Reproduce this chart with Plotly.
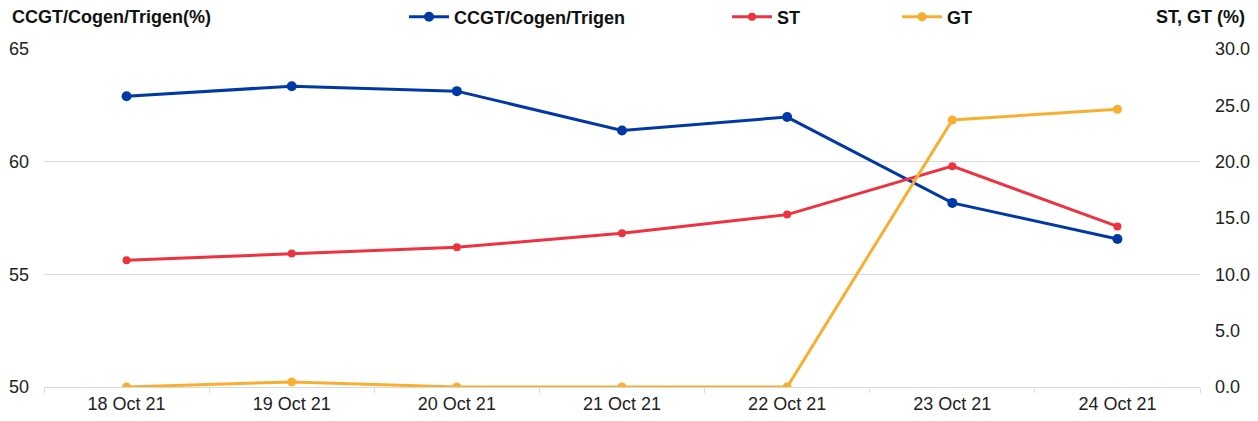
import plotly.graph_objects as go

dates = ["18 Oct 21", "19 Oct 21", "20 Oct 21", "21 Oct 21", "22 Oct 21", "23 Oct 21", "24 Oct 21"]
ccgt = [62.9, 63.35, 63.13, 61.38, 61.98, 58.17, 56.57]
st = [11.25, 11.85, 12.4, 13.65, 15.3, 19.6, 14.25]
gt = [0.0, 0.45, 0.0, 0.0, 0.0, 23.7, 24.65]

left_ticks = [50, 55, 60, 65]
right_ticks = [0, 5, 10, 15, 20, 25, 30]

BLUE = "#0039A6"
RED = "#EE3340"
ORANGE = "#F9AE30"
FONT = "Liberation Sans, Arial, sans-serif"

fig = go.Figure()
fig.add_trace(go.Scatter(x=dates, y=ccgt, name="<b>CCGT/Cogen/Trigen</b>", mode="lines+markers",
                         line=dict(color=BLUE, width=3), marker=dict(size=10, color=BLUE),
                         yaxis="y", legend="legend"))
fig.add_trace(go.Scatter(x=dates, y=st, name="<b>ST</b>", mode="lines+markers",
                         line=dict(color=RED, width=3), marker=dict(size=8, color=RED),
                         yaxis="y2", legend="legend2"))
fig.add_trace(go.Scatter(x=dates, y=gt, name="<b>GT</b>", mode="lines+markers",
                         line=dict(color=ORANGE, width=3), marker=dict(size=9, color=ORANGE),
                         yaxis="y2", legend="legend3"))

W, H = 1250, 413
L, R, T, B = 36, 58, 41, 34
PW = W - L - R
PH = H - T - B

legend_common = dict(orientation="h", yref="container", yanchor="middle", y=1 - 9 / H,
                     xanchor="left", font=dict(family=FONT, size=18, color="#111111"),
                     bgcolor="rgba(0,0,0,0)", itemwidth=40, visible=True)

fig.update_layout(
    width=W, height=H,
    showlegend=True,
    margin=dict(l=L, r=R, t=T, b=B, autoexpand=False),
    plot_bgcolor="white", paper_bgcolor="white",
    font=dict(family=FONT, size=18, color="#222222"),
    xaxis=dict(type="category", showgrid=False, showline=True, linecolor="#D9D9D9", linewidth=1,
               ticks="outside", tickson="boundaries", tickcolor="#D9D9D9", ticklen=5,
               tickfont=dict(size=18, color="#222222"), range=[-0.5, 6.5], automargin=False),
    yaxis=dict(range=[50, 65], tickvals=left_ticks, showgrid=True, gridcolor="#D9D9D9",
               zeroline=False, showline=False, ticklabelstandoff=14, automargin=False,
               tickfont=dict(size=18, color="#222222")),
    yaxis2=dict(range=[0, 30], tickvals=right_ticks, tickformat=".1f", overlaying="y", side="right",
                showgrid=False, zeroline=False, showline=False, ticklabelstandoff=14, automargin=False,
                tickfont=dict(size=18, color="#222222")),
    legend=dict(legend_common, x=(396 - L) / PW),
    legend2=dict(legend_common, x=(719 - L) / PW),
    legend3=dict(legend_common, x=(889 - L) / PW),
    annotations=[
        dict(text="<b>CCGT/Cogen/Trigen(%)</b>", xref="paper", yref="paper", x=-34 / PW, y=1 + 32 / PH,
             xanchor="left", yanchor="middle", showarrow=False, font=dict(size=18, color="#111111")),
        dict(text="<b>ST, GT (%)</b>", xref="paper", yref="paper", x=1 + 47 / PW, y=1 + 32 / PH,
             xanchor="right", yanchor="middle", showarrow=False, font=dict(size=18, color="#111111")),
    ],
)

fig.write_html("out.html")
